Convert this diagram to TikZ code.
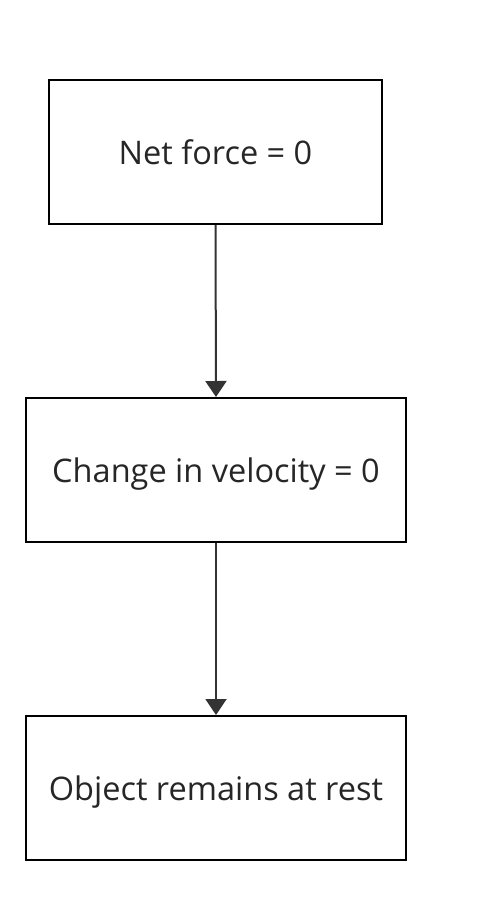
\documentclass[tikz,border=0pt]{standalone}
\usepackage{fontspec}
\setmainfont{Open Sans}
\usetikzlibrary{arrows.meta}
\definecolor{edge}{HTML}{333333}
\begin{document}
\begin{tikzpicture}[x=1pt,y=-1pt,
  box/.style={draw=black,line width=2pt,minimum width=#1,minimum height=144pt,inner sep=0pt,text height=25pt,text depth=0pt,font=\fontsize{32.5}{38}\selectfont,text=black!85},
  conn/.style={draw=edge,line width=2pt,-{Triangle[length=16pt,width=21pt]}}]
\useasboundingbox (0,0) rectangle (487,907);
\node[box=333pt] (a) at (215.5,152) {Net force = 0};
\node[box=380pt] (b) at (216,470) {Change in velocity = 0};
\node[box=380pt] (c) at (216,788) {Object remains at rest};
\draw[conn] (a.south) -- (b.north);
\draw[conn] (b.south) -- (c.north);
\end{tikzpicture}
\end{document}
